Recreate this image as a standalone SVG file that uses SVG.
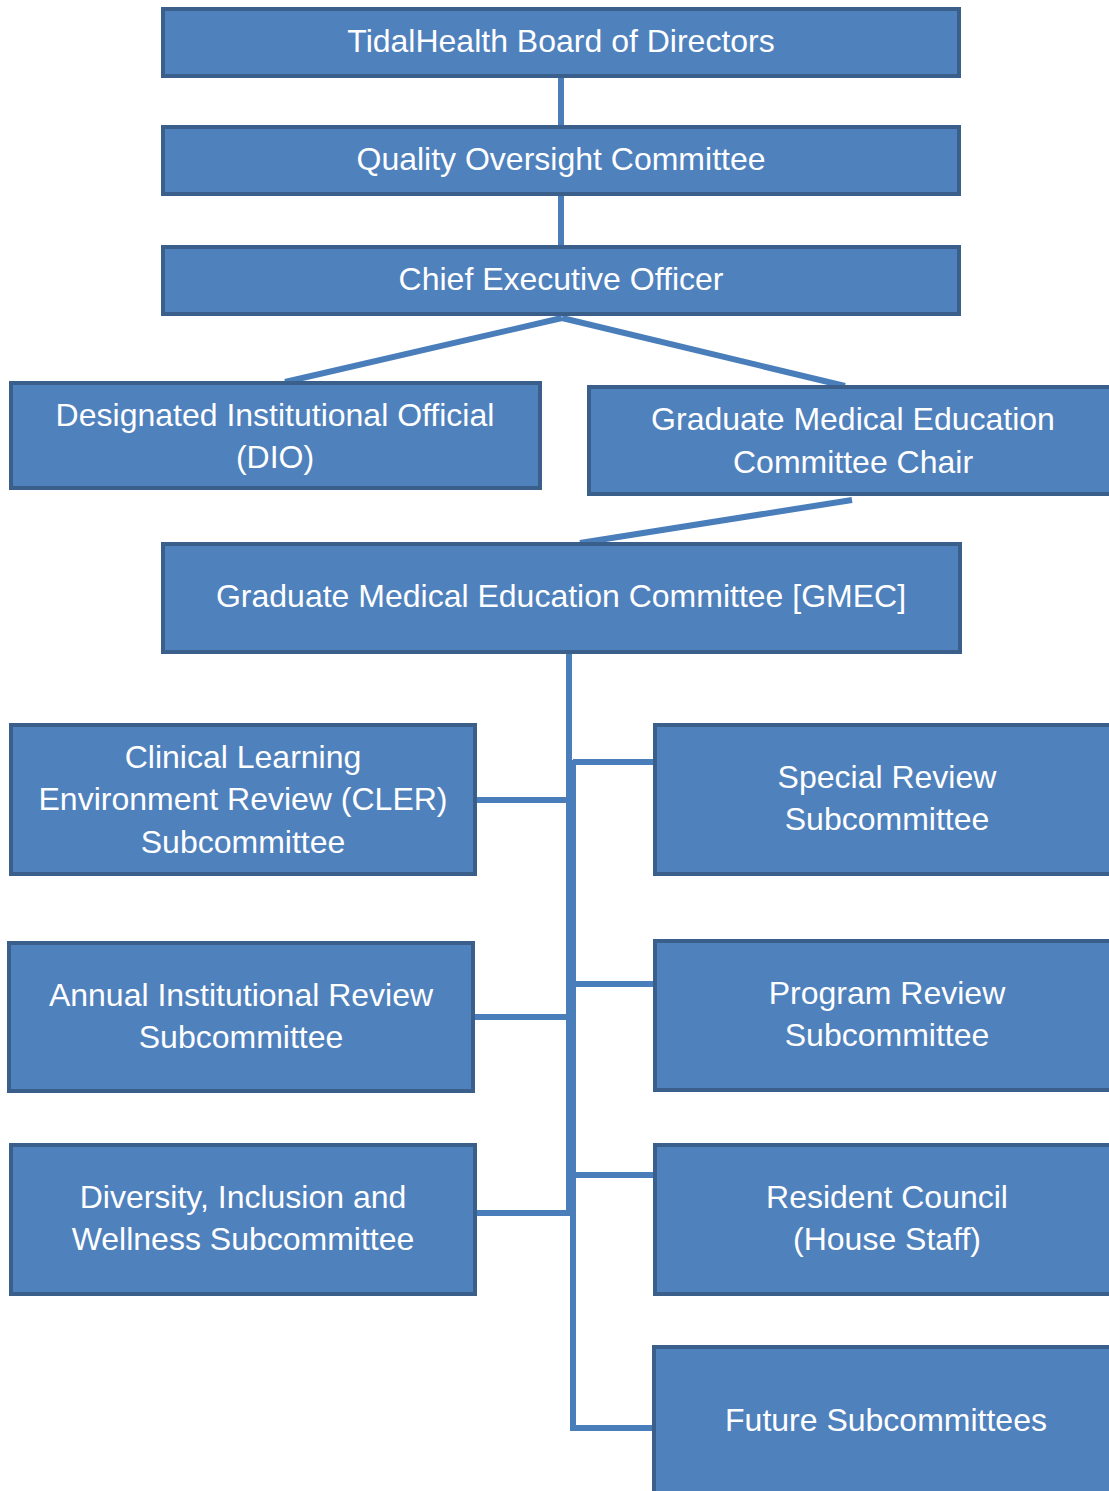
<svg xmlns="http://www.w3.org/2000/svg" width="1109" height="1491" viewBox="0 0 1109 1491">
  <style>
    .box { fill: #4f81bd; stroke: #3a5f8b; stroke-width: 4; }
    .lbl { fill: #ffffff; font-family: "Liberation Sans", Arial, sans-serif; font-size: 32px; text-anchor: middle; }
    .wire { stroke: #4a7ebb; stroke-width: 6; fill: none; }
  </style>
  <rect width="1109" height="1491" fill="#ffffff"/>

  <!-- connectors -->
  <g id="connectors">
    <line class="wire" x1="561" y1="76" x2="561" y2="127"/>
    <line class="wire" x1="561" y1="194" x2="561" y2="247"/>
    <line class="wire" x1="562" y1="318" x2="285" y2="382"/>
    <line class="wire" x1="562" y1="318" x2="845" y2="386"/>
    <line class="wire" x1="852" y1="500" x2="580" y2="543"/>
    <line class="wire" x1="569" y1="652" x2="569" y2="1216"/>
    <line class="wire" x1="573" y1="760" x2="573" y2="1431"/>
    <line class="wire" x1="475" y1="800" x2="569" y2="800"/>
    <line class="wire" x1="473" y1="1017" x2="569" y2="1017"/>
    <line class="wire" x1="475" y1="1213" x2="569" y2="1213"/>
    <line class="wire" x1="573" y1="762" x2="655" y2="762"/>
    <line class="wire" x1="573" y1="984" x2="655" y2="984"/>
    <line class="wire" x1="573" y1="1175" x2="655" y2="1175"/>
    <line class="wire" x1="573" y1="1428" x2="655" y2="1428"/>
  </g>

  <g id="board">
    <rect class="box" x="163" y="9" width="796" height="67"/>
    <text class="lbl" x="561" y="52">TidalHealth Board of Directors</text>
  </g>
  <g id="quality">
    <rect class="box" x="163" y="127" width="796" height="67"/>
    <text class="lbl" x="561" y="170">Quality Oversight Committee</text>
  </g>
  <g id="ceo">
    <rect class="box" x="163" y="247" width="796" height="67"/>
    <text class="lbl" x="561" y="290">Chief Executive Officer</text>
  </g>
  <g id="dio">
    <rect class="box" x="11" y="383" width="529" height="105"/>
    <text class="lbl" x="275" y="426">Designated Institutional Official</text>
    <text class="lbl" x="275" y="468">(DIO)</text>
  </g>
  <g id="gme-chair">
    <rect class="box" x="589" y="387" width="530" height="107"/>
    <text class="lbl" x="853" y="430">Graduate Medical Education</text>
    <text class="lbl" x="853" y="473">Committee Chair</text>
  </g>
  <g id="gmec">
    <rect class="box" x="163" y="544" width="797" height="108"/>
    <text class="lbl" x="561" y="607">Graduate Medical Education Committee [GMEC]</text>
  </g>
  <g id="cler">
    <rect class="box" x="11" y="725" width="464" height="149"/>
    <text class="lbl" x="243" y="768">Clinical Learning</text>
    <text class="lbl" x="243" y="810">Environment Review (CLER)</text>
    <text class="lbl" x="243" y="853">Subcommittee</text>
  </g>
  <g id="special-review">
    <rect class="box" x="655" y="725" width="464" height="149"/>
    <text class="lbl" x="887" y="788">Special Review</text>
    <text class="lbl" x="887" y="830">Subcommittee</text>
  </g>
  <g id="annual-review">
    <rect class="box" x="9" y="943" width="464" height="148"/>
    <text class="lbl" x="241" y="1006">Annual Institutional Review</text>
    <text class="lbl" x="241" y="1048">Subcommittee</text>
  </g>
  <g id="program-review">
    <rect class="box" x="655" y="941" width="464" height="149"/>
    <text class="lbl" x="887" y="1004">Program Review</text>
    <text class="lbl" x="887" y="1046">Subcommittee</text>
  </g>
  <g id="diversity">
    <rect class="box" x="11" y="1145" width="464" height="149"/>
    <text class="lbl" x="243" y="1208">Diversity, Inclusion and</text>
    <text class="lbl" x="243" y="1250">Wellness Subcommittee</text>
  </g>
  <g id="resident-council">
    <rect class="box" x="655" y="1145" width="464" height="149"/>
    <text class="lbl" x="887" y="1208">Resident Council</text>
    <text class="lbl" x="887" y="1250">(House Staff)</text>
  </g>
  <g id="future">
    <rect class="box" x="654" y="1347" width="465" height="160"/>
    <text class="lbl" x="886" y="1431">Future Subcommittees</text>
  </g>
</svg>
